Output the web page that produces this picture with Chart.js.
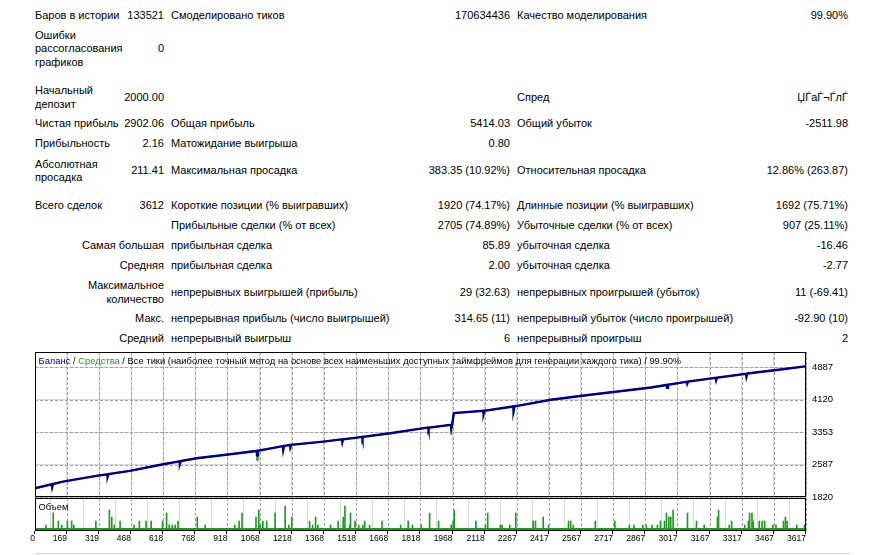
<!DOCTYPE html>
<html>
<head>
<meta charset="utf-8">
<script src="https://cdn.jsdelivr.net/npm/chart.js@4.4.0/dist/chart.umd.min.js"></script>
<style>
    body { margin: 0; background: #fff; font-family: "Liberation Sans", Arial, sans-serif; font-size: 11px; color: #000; }
    .t { position: absolute; line-height: 13.4px; white-space: nowrap; }
    .c1 { left: 35px; }
    .v1 { right: 720px; text-align: right; }
    .c2 { left: 171px; }
    .v2 { right: 374px; text-align: right; }
    .c3 { left: 517px; }
    .v3 { right: 36px; text-align: right; }
    canvas { position: absolute; left: 0; }
    #bottomLine { position: absolute; left: 35px; top: 553px; width: 815px; height: 1px; background: #d4d4d4; }
</style>
</head>
<body>
<canvas id="balanceChart" width="884" height="160" style="top:352px;"></canvas>
<canvas id="volumeChart" width="884" height="57" style="top:498px;"></canvas>
<div id="bottomLine"></div>
<script>
// chart data
const xTickLabels = ['0', '169', '319', '468', '618', '768', '918', '1068', '1218', '1368', '1518', '1668',
    '1818', '1968', '2118', '2267', '2417', '2567', '2717', '2867', '3017', '3167', '3317', '3467', '3617'];
const yTickLabels = ['1820', '2587', '3353', '4120', '4887'];

const balanceTrades = [0, 98, 100, 104, 150, 306, 357, 359, 363, 462, 618, 694, 696, 700, 774, 930,
    1054, 1056, 1060, 1176, 1178, 1182, 1209, 1211, 1215, 1366, 1452, 1454, 1458, 1522, 1546, 1548, 1552,
    1678, 1834, 1854, 1856, 1860, 1960, 1962, 1966, 1974, 2111, 2113, 2117, 2251, 2253, 2257, 2271, 2427,
    2582, 2738, 2894, 2967, 2969, 2973, 3050, 3061, 3063, 3067, 3196, 3198, 3202, 3206, 3337, 3339, 3343,
    3362, 3518, 3612];
const balanceValues = [2000, 2120, 2050, 2124, 2182, 2317, 2356, 2298, 2359, 2435, 2593, 2663, 2605, 2666, 2735, 2830,
    2907, 2803, 2911, 3020, 2927, 3023, 3049, 2986, 3051, 3128, 3180, 3110, 3182, 3222, 3238, 3192, 3240,
    3326, 3444, 3457, 3411, 3459, 3522, 3452, 3524, 3799, 3852, 3782, 3855, 3956, 3864, 3960, 3972, 4114,
    4215, 4310, 4404, 4464, 4395, 4467, 4532, 4540, 4494, 4543, 4634, 4576, 4637, 4641, 4729, 4659, 4732,
    4745, 4840, 4902];

const equityTrades = [0, 150, 306, 462, 618, 774, 930, 1054, 1056, 1060, 1210, 1366, 1522, 1678, 1834,
    1960, 1962, 1966, 1974, 2115, 2251, 2253, 2257, 2271, 2427, 2582, 2738, 2894, 3050, 3206, 3362, 3518, 3612];
const equityValues = [2000, 2182, 2317, 2435, 2593, 2735, 2830, 2907, 2695, 2911, 3050, 3128, 3222, 3326, 3444,
    3522, 3286, 3524, 3799, 3854, 3956, 3760, 3960, 3972, 4114, 4215, 4310, 4404, 4532, 4641, 4745, 4840, 4902];

const volumeTrades = [71, 105, 129, 145, 171, 191, 201, 304, 367, 378, 390, 417, 482, 507, 538, 562,
    615, 634, 646, 660, 674, 687, 777, 814, 952, 972, 986, 1051, 1064, 1070, 1083, 1101, 1140, 1187,
    1204, 1218, 1301, 1315, 1329, 1340, 1399, 1434, 1458, 1466, 1488, 1492, 1513, 1530, 1549, 1558, 1581, 1639, 1726, 1761, 1781,
    1822, 1861, 1903, 1962, 1971, 1976, 2077, 2121, 2132, 2191, 2199, 2235, 2263, 2344, 2355, 2391,
    2416, 2509, 2519, 2531, 2634, 2725, 2793, 2815, 2856, 2872, 2899, 2924, 2938, 2957, 2966, 2977,
    2986, 2997, 3064, 3106, 3142, 3204, 3209, 3259, 3270, 3331, 3348, 3354, 3365, 3371, 3399, 3412, 3424,
    3463, 3477, 3512, 3521, 3529, 3574, 3610];
const volumeLots = [0.06, 0.18, 0.10, 0.06, 0.10, 0.10, 0.06, 0.10, 0.21, 0.14, 0.06, 0.10, 0.06, 0.10, 0.10, 0.10,
    0.10, 0.18, 0.06, 0.06, 0.06, 0.10, 0.14, 0.06, 0.06, 0.10, 0.18, 0.14, 0.21, 0.06, 0.10, 0.10, 0.18, 0.25,
    0.06, 0.14, 0.10, 0.06, 0.14, 0.06, 0.06, 0.10, 0.14, 0.25, 0.06, 0.18, 0.10, 0.06, 0.06, 0.10, 0.06, 0.10, 0.06, 0.10, 0.06,
    0.06, 0.18, 0.10, 0.06, 0.10, 0.21, 0.10, 0.06, 0.18, 0.06, 0.06, 0.06, 0.18, 0.10, 0.10, 0.14,
    0.06, 0.10, 0.10, 0.06, 0.10, 0.10, 0.06, 0.06, 0.06, 0.06, 0.06, 0.06, 0.10, 0.10, 0.18, 0.14,
    0.14, 0.21, 0.18, 0.10, 0.06, 0.14, 0.21, 0.06, 0.10, 0.06, 0.10, 0.18, 0.18, 0.10, 0.10, 0.10, 0.10,
    0.06, 0.06, 0.10, 0.14, 0.10, 0.06, 0.06];
const baseLot = 0.03;
const totalTrades = 3612;

// report table: [class, centre y, text, lines]
const reportCells = [
    ['c1', 16, 'Баров в истории'], ['v1', 16, '133521'], ['c2', 16, 'Смоделировано тиков'],
    ['v2', 16, '170634436'], ['c3', 16, 'Качество моделирования'], ['v3', 16, '99.90%'],
    ['c1', 49, 'Ошибки<br>рассогласования<br>графиков', 3], ['v1', 49, '0'],
    ['c1', 97.5, 'Начальный<br>депозит', 2], ['v1', 98, '2000.00'], ['c3', 97.5, 'Спред'], ['v3', 97.5, 'ЏЃаЃ¬ЃлЃ'],
    ['c1', 124, 'Чистая прибыль'], ['v1', 124, '2902.06'], ['c2', 124, 'Общая прибыль'],
    ['v2', 124, '5414.03'], ['c3', 124, 'Общий убыток'], ['v3', 124, '-2511.98'],
    ['c1', 144, 'Прибыльность'], ['v1', 144, '2.16'], ['c2', 144, 'Матожидание выигрыша'], ['v2', 144, '0.80'],
    ['c1', 171, 'Абсолютная<br>просадка', 2], ['v1', 171, '211.41'], ['c2', 171, 'Максимальная просадка'],
    ['v2', 171, '383.35 (10.92%)'], ['c3', 171, 'Относительная просадка'], ['v3', 171, '12.86% (263.87)'],
    ['c1', 206, 'Всего сделок'], ['v1', 206, '3612'], ['c2', 206, 'Короткие позиции (% выигравших)'],
    ['v2', 206, '1920 (74.17%)'], ['c3', 206, 'Длинные позиции (% выигравших)'], ['v3', 206, '1692 (75.71%)'],
    ['c2', 226, 'Прибыльные сделки (% от всех)'], ['v2', 226, '2705 (74.89%)'],
    ['c3', 226, 'Убыточные сделки (% от всех)'], ['v3', 226, '907 (25.11%)'],
    ['v1', 246, 'Самая большая'], ['c2', 246, 'прибыльная сделка'], ['v2', 246, '85.89'],
    ['c3', 246, 'убыточная сделка'], ['v3', 246, '-16.46'],
    ['v1', 266, 'Средняя'], ['c2', 266, 'прибыльная сделка'], ['v2', 266, '2.00'],
    ['c3', 266, 'убыточная сделка'], ['v3', 266, '-2.77'],
    ['v1', 292.5, 'Максимальное<br>количество', 2], ['c2', 293, 'непрерывных выигрышей (прибыль)'],
    ['v2', 293, '29 (32.63)'], ['c3', 293, 'непрерывных проигрышей (убыток)'], ['v3', 293, '11 (-69.41)'],
    ['v1', 319, 'Макс.'], ['c2', 319, 'непрерывная прибыль (число выигрышей)'], ['v2', 319, '314.65 (11)'],
    ['c3', 319, 'непрерывный убыток (число проигрышей)'], ['v3', 319, '-92.90 (10)'],
    ['v1', 339, 'Средний'], ['c2', 339, 'непрерывный выигрыш'], ['v2', 339, '6'],
    ['c3', 339, 'непрерывный проигрыш'], ['v3', 339, '2']
];

reportCells.forEach(function(cell) {
    const lines = cell[3] || 1;
    const div = document.createElement('div');
    div.className = 't ' + cell[0];
    div.style.top = (cell[1] - lines * 13.4 / 2) + 'px';
    div.innerHTML = cell[2];
    document.body.appendChild(div);
});

const navy = '#000080';
const green = '#1f9a1f';
const gridColor = '#a0a0a0';
const fontFamily = '"Liberation Sans", Arial, sans-serif';

// black frame round the plot area
const framePlugin = {
    id: 'frame',
    afterDraw(chart) {
        const a = chart.chartArea;
        const ctx = chart.ctx;
        ctx.save();
        ctx.strokeStyle = '#000';
        ctx.lineWidth = 1;
        ctx.strokeRect(a.left + 0.5, a.top + 0.5, a.right - a.left - 1, a.bottom - a.top - 1);
        ctx.restore();
    }
};

// dashed grid at the scale ticks, plus small tick marks under the frame
function gridPlugin(axisIds, tickMarks) {
    return {
        id: 'dashedGrid',
        beforeDatasetsDraw(chart) {
            const a = chart.chartArea;
            const ctx = chart.ctx;
            ctx.save();
            ctx.strokeStyle = gridColor;
            ctx.lineWidth = 1;
            ctx.setLineDash([3, 2]);
            axisIds.forEach(function(id) {
                const s = chart.scales[id];
                s.ticks.forEach(function(t) {
                    const p = Math.round(s.getPixelForValue(t.value)) + 0.5;
                    ctx.beginPath();
                    if (s.isHorizontal()) {
                        ctx.moveTo(p, a.top);
                        ctx.lineTo(p, a.bottom);
                    } else {
                        ctx.moveTo(a.left, p);
                        ctx.lineTo(a.right, p);
                    }
                    ctx.stroke();
                });
            });
            ctx.restore();
        },
        afterDraw(chart) {
            if (!tickMarks) return;
            const a = chart.chartArea;
            const ctx = chart.ctx;
            const s = chart.scales.x;
            ctx.save();
            ctx.strokeStyle = '#000';
            ctx.lineWidth = 1;
            s.ticks.forEach(function(t) {
                const p = Math.round(s.getPixelForValue(t.value)) - 0.5;
                ctx.beginPath();
                ctx.moveTo(p, a.bottom);
                ctx.lineTo(p, a.bottom + 3);
                ctx.stroke();
            });
            ctx.restore();
        }
    };
}

// caption written inside the plot, in several colours
function captionPlugin(parts) {
    return {
        id: 'caption',
        afterDraw(chart) {
            const ctx = chart.ctx;
            const a = chart.chartArea;
            let x = a.left + 3.5;
            ctx.save();
            ctx.font = '9.4px ' + fontFamily;
            ctx.textBaseline = 'middle';
            parts.forEach(function(p) {
                ctx.fillStyle = p[1];
                ctx.fillText(p[0], x, a.top + 9.5);
                x += ctx.measureText(p[0]).width;
            });
            ctx.restore();
        }
    };
}

function xTicks(scale) {
    scale.ticks = xTickLabels.map(l => ({ value: Math.max(Number(l), scale.min) }));
}

function noPadding(s) {
    s.paddingTop = 0;
    s.paddingBottom = 0;
    s.paddingLeft = 0;
    s.paddingRight = 0;
}

// light built-in grid under the dashed one
const baseGrid = { color: '#dadada', drawTicks: false };

new Chart(document.getElementById('balanceChart'), {
    type: 'line',
    data: {
        datasets: [
            {
                label: 'Баланс',
                data: balanceTrades.map((n, i) => ({ x: n, y: balanceValues[i] })),
                borderColor: navy,
                borderWidth: 2.4,
                pointRadius: 0,
                tension: 0,
                order: 1
            },
            {
                label: 'Средства',
                data: equityTrades.map((n, i) => ({ x: n, y: equityValues[i] })),
                borderColor: green,
                borderWidth: 1.5,
                pointRadius: 0,
                tension: 0,
                order: 2
            }
        ]
    },
    options: {
        responsive: false,
        animation: false,
        layout: { padding: { left: 35 } },
        plugins: { legend: { display: false }, tooltip: { enabled: false } },
        scales: {
            x: {
                type: 'linear',
                offset: false,
                min: 20,
                max: 3617,
                afterBuildTicks: xTicks,
                afterFit: s => { s.height = 15; noPadding(s); },
                border: { display: false },
                grid: baseGrid,
                ticks: { display: false }
            },
            y: {
                position: 'right',
                min: 1820,
                max: 5242,
                afterBuildTicks: s => { s.ticks = yTickLabels.map(l => ({ value: Number(l) })); },
                afterFit: s => { s.width = 78; noPadding(s); },
                border: { display: false },
                grid: baseGrid,
                ticks: {
                    padding: 6,
                    color: '#000',
                    font: { family: fontFamily, size: 9.5 },
                    callback: (v, i) => yTickLabels[i]
                }
            }
        }
    },
    plugins: [gridPlugin(['x', 'y'], false), framePlugin, captionPlugin([
        ['Баланс', navy], [' / ', '#000'], ['Средства', green],
        [' / Все тики (наиболее точный метод на основе всех наименьших доступных таймфреймов для генерации каждого тика) / 99.90%', '#000']
    ])]
});

new Chart(document.getElementById('volumeChart'), {
    type: 'bar',
    data: {
        datasets: [
            {
                type: 'bar',
                label: 'Объем',
                data: volumeTrades.map((n, i) => ({ x: n, y: volumeLots[i] })),
                backgroundColor: green,
                barThickness: 1,
                grouped: false,
                order: 1
            },
            {
                type: 'line',
                label: 'base',
                data: [{ x: 0, y: baseLot }, { x: totalTrades, y: baseLot }],
                borderColor: green,
                borderWidth: 0,
                backgroundColor: green,
                fill: 'origin',
                pointRadius: 0,
                order: 2
            }
        ]
    },
    options: {
        responsive: false,
        animation: false,
        layout: { padding: { left: 35 } },
        plugins: { legend: { display: false }, tooltip: { enabled: false } },
        scales: {
            x: {
                type: 'linear',
                offset: false,
                min: 20,
                max: 3617,
                afterBuildTicks: xTicks,
                afterFit: s => { s.height = 24; noPadding(s); },
                border: { display: false },
                grid: baseGrid,
                ticks: {
                    align: 'end',
                    autoSkip: false,
                    maxRotation: 0,
                    padding: 3,
                    color: '#000',
                    font: { family: fontFamily, size: 8.5 },
                    callback: (v, i) => xTickLabels[i]
                }
            },
            y: {
                position: 'right',
                min: 0,
                max: 0.33,
                afterFit: s => { s.width = 78; noPadding(s); },
                border: { display: false },
                grid: { display: false },
                ticks: { display: false }
            }
        }
    },
    plugins: [gridPlugin(['x'], true), framePlugin, captionPlugin([['Объем', '#000']])]
});
</script>
</body>
</html>
